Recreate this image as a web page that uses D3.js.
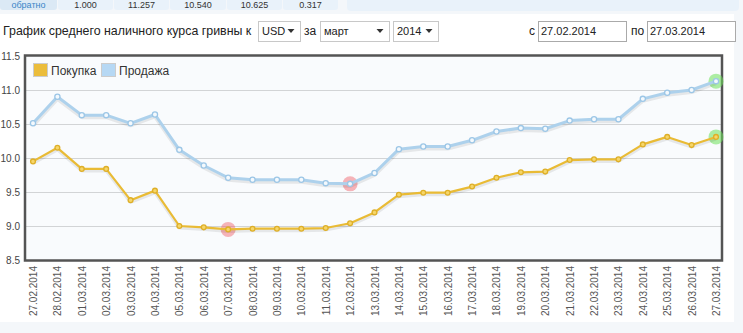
<!DOCTYPE html>
<html><head><meta charset="utf-8">
<script src="https://cdn.jsdelivr.net/npm/d3@7/dist/d3.min.js"></script>
<style>
html,body{margin:0;padding:0;background:#f4f7fa;}
svg{display:block;}
</style></head>
<body>
<svg id="c" width="743" height="333"></svg>
<script>
const dates = ["27.02.2014","28.02.2014","01.03.2014","02.03.2014","03.03.2014","04.03.2014","05.03.2014","06.03.2014","07.03.2014","08.03.2014","09.03.2014","10.03.2014","11.03.2014","12.03.2014","13.03.2014","14.03.2014","15.03.2014","16.03.2014","17.03.2014","18.03.2014","19.03.2014","20.03.2014","21.03.2014","22.03.2014","23.03.2014","24.03.2014","25.03.2014","26.03.2014","27.03.2014"];
const buy  = [9.95,10.15,9.84,9.84,9.38,9.52,9.00,8.98,8.95,8.96,8.96,8.96,8.97,9.04,9.20,9.46,9.49,9.49,9.58,9.71,9.79,9.80,9.97,9.98,9.98,10.20,10.31,10.19,10.31];
const sell = [10.51,10.90,10.63,10.63,10.51,10.64,10.12,9.89,9.71,9.68,9.68,9.68,9.63,9.62,9.78,10.13,10.17,10.17,10.26,10.39,10.44,10.43,10.55,10.57,10.57,10.87,10.96,11.00,11.13];
const yTicks = [8.5,9.0,9.5,10.0,10.5,11.0,11.5];
const seriesNames = ["Покупка","Продажа"];
const topCells = ["обратно","1.000","11.257","10.540","10.625","0.317"];
const headerText = "График среднего наличного курса гривны к";
const currency = "USD", monthSel = "март", yearSel = "2014";
const fromDate = "27.02.2014", toDate = "27.03.2014";

const svg = d3.select("#c");
const F = "'Liberation Sans', Arial, sans-serif";

// white panel
svg.append("rect").attr("x",0).attr("y",14).attr("width",734).attr("height",308).attr("fill","#ffffff");

// top cells strip
const cellX = [0,58,114,170,227,283];
const cellW = [57,55,55,56,55,55];
topCells.forEach((t,i)=>{
  svg.append("rect").attr("x",cellX[i]).attr("y",-4).attr("width",cellW[i]).attr("height",14)
    .attr("fill", i===0 ? "#dbe9f5" : "#e9f2fa").attr("rx",3);
  svg.append("text").attr("x",cellX[i]+cellW[i]/2).attr("y",8).attr("text-anchor","middle")
    .attr("font-family",F).attr("font-size",9).attr("fill", i===0 ? "#3a86c8" : "#333").text(t);
});
svg.append("rect").attr("x",347).attr("y",-4).attr("width",392).attr("height",15).attr("rx",4).attr("fill","#e9f2fa");

// header controls
const hy = 35;
svg.append("text").attr("x",3).attr("y",hy).attr("font-family",F).attr("font-size",12.4).attr("fill","#222").text(headerText);
function selectBox(x,w,label){
  svg.append("rect").attr("x",x+0.5).attr("y",21.5).attr("width",w).attr("height",20).attr("fill","#fff").attr("stroke","#c8c8c8");
  svg.append("text").attr("x",x+4).attr("y",hy).attr("font-family",F).attr("font-size",11).attr("fill","#222").text(label);
  const ax = x+w-9;
  svg.append("path").attr("d",`M${ax-3.5},29 L${ax+3.5},29 L${ax},33 Z`).attr("fill","#333");
}
selectBox(258,42,currency);
svg.append("text").attr("x",304).attr("y",hy).attr("font-family",F).attr("font-size",12).attr("fill","#222").text("за");
selectBox(320,69,monthSel);
selectBox(393,45,yearSel);
svg.append("text").attr("x",529).attr("y",hy).attr("font-family",F).attr("font-size",12).attr("fill","#222").text("с");
function inputBox(x,w,label){
  svg.append("rect").attr("x",x+0.5).attr("y",21.5).attr("width",w).attr("height",20).attr("fill","#fff").attr("stroke","#aaa");
  svg.append("text").attr("x",x+3).attr("y",hy).attr("font-family",F).attr("font-size",11).attr("fill","#222").text(label);
}
inputBox(538,88,fromDate);
svg.append("text").attr("x",631).attr("y",hy).attr("font-family",F).attr("font-size",12).attr("fill","#222").text("по");
inputBox(647,88,toDate);

// chart
const x = d3.scalePoint().domain(dates).range([33,716]);
const y = d3.scaleLinear().domain([8.5,11.5]).range([260,56]);
const px0 = 25, px1 = 722, py0 = 56, py1 = 260;

svg.append("rect").attr("x",px0).attr("y",py0).attr("width",px1-px0).attr("height",py1-py0).attr("fill","#f9fbfd");

// grid
svg.append("g").selectAll("line").data(yTicks.filter(v=>v>8.5 && v<11.5)).join("line")
  .attr("x1",px0).attr("x2",px1).attr("y1",d=>Math.round(y(d))+0.5).attr("y2",d=>Math.round(y(d))+0.5)
  .attr("stroke","#d2d4d6").attr("stroke-width",1);

// y axis labels
const yAxis = d3.axisLeft(y).tickValues(yTicks).tickFormat(d3.format(".1f")).tickSize(0).tickPadding(4);
const ga = svg.append("g").attr("transform",`translate(${px0-1},0)`).call(yAxis);
ga.select(".domain").remove();
ga.selectAll("text").attr("font-family",F).attr("font-size",10).attr("fill","#444");

// x axis labels
const xAxis = d3.axisBottom(x).tickSize(0).tickPadding(0);
const gx = svg.append("g").attr("transform",`translate(0,${py1})`).call(xAxis);
gx.select(".domain").remove();
gx.selectAll("text").attr("font-family",F).attr("font-size",10).attr("fill","#555")
  .attr("text-anchor","end").attr("transform","rotate(-90)").attr("x",-6).attr("y",0).attr("dy","0.35em");

// frame
svg.append("rect").attr("x",px0).attr("y",py0-0.5).attr("width",px1-px0).attr("height",py1-py0+1)
  .attr("fill","none").attr("stroke","#545454").attr("stroke-width",2.5);

const line = d3.line().x((d,i)=>x(dates[i])).y(d=>y(d));

function drawSeries(vals, color, ptFill, ptStroke, r, w){
  const g = svg.append("g");
  g.append("path").attr("d",line(vals)).attr("fill","none").attr("stroke","rgba(0,0,0,0.08)")
    .attr("stroke-width",w+1).attr("transform","translate(0,2)").attr("stroke-linejoin","round");
  g.append("path").attr("d",line(vals)).attr("fill","none").attr("stroke",color)
    .attr("stroke-width",w).attr("stroke-linejoin","round");
  g.selectAll("circle").data(vals).join("circle")
    .attr("cx",(d,i)=>x(dates[i])).attr("cy",d=>y(d)).attr("r",r)
    .attr("fill",ptFill).attr("stroke",ptStroke).attr("stroke-width",1.3);
}

function highlight(vals){
  const mn = d3.min(vals), mx = d3.max(vals);
  const iMin = vals.indexOf(mn), iMax = vals.lastIndexOf(mx);
  svg.append("circle").attr("cx",x(dates[iMin])).attr("cy",y(mn)).attr("r",7.5).attr("fill","rgba(240,90,100,0.45)");
  svg.append("circle").attr("cx",x(dates[iMax])).attr("cy",y(mx)).attr("r",7.5).attr("fill","rgba(110,225,90,0.55)");
}
highlight(sell);
highlight(buy);
drawSeries(sell, "#add1ec", "#f4f9fd", "#9cc6e6", 2.6, 3);
drawSeries(buy, "#e9bb35", "#f6d66a", "#deaf28", 2.4, 2.2);

// legend
const lg = svg.append("g");
lg.append("rect").attr("x",33.5).attr("y",63.5).attr("width",14).attr("height",13).attr("fill","#ebbd3c").attr("stroke","#ccc");
lg.append("text").attr("x",51).attr("y",74.5).attr("font-family",F).attr("font-size",12).attr("fill","#333").text(seriesNames[0]);
lg.append("rect").attr("x",101.5).attr("y",63.5).attr("width",14).attr("height",13).attr("fill","#b6d8f4").attr("stroke","#ccc");
lg.append("text").attr("x",119).attr("y",74.5).attr("font-family",F).attr("font-size",12).attr("fill","#333").text(seriesNames[1]);
</script>
</body></html>
